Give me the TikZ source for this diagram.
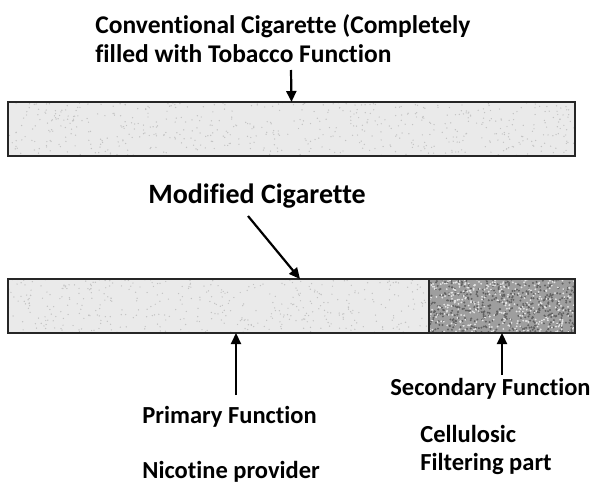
\documentclass[tikz,border=0pt]{standalone}
\usepackage{fontspec}
\setmainfont{Carlito}[Ligatures=NoCommon]
\usepackage{tikz}
\usetikzlibrary{positioning, calc, arrows.meta}
\definecolor{cTob}{RGB}{234,234,234}
\definecolor{cFil}{RGB}{158,158,158}

\begin{document}
\begin{tikzpicture}[x=1pt, y=-1pt, thick,
                    cig/.style={draw=black!85, line width=1.2pt, fill=#1, minimum height=54pt,
                                inner sep=0pt, outer sep=0pt},
                    specks/.style n args={3}{path picture={
                        \foreach \i in {1,...,#1}
                          \fill[#2] ($(path picture bounding box.south west)
                                     +(rnd*\pgfkeysvalueof{/pgf/minimum width},rnd*54pt)$) circle (#3);}},
                    lbl/.style={font=\bfseries\fontsize{24.5}{28}\selectfont, inner sep=0pt, anchor=base west},
                    arr/.style={-{Triangle[length=11pt,width=10pt]}, line width=2.2pt}]
    \pgfmathsetseed{42}
    \useasboundingbox (0,0) rectangle (596,484);

    % Conventional cigarette
    \node[lbl, anchor=north west, align=left, font=\bfseries\fontsize{25.5}{29}\selectfont]
        (convlbl) at (95,14) {Conventional Cigarette (Completely\\filled with Tobacco Function};
    \node[cig=cTob, minimum width=567pt, specks={600}{black!24}{0.7pt}] (conv) at (291.5,129) {};
    \coordinate (convtail) at (291,70);
    \draw[arr] (convtail) -- (conv.north);

    % Modified cigarette: tobacco part + filter part
    \node[lbl, font=\bfseries\fontsize{28}{32}\selectfont] (modlbl) at (148,203) {Modified Cigarette};
    \node[cig=cTob, minimum width=421pt, specks={450}{black!24}{0.7pt}] (tob) at (218.5,306) {};
    \node[cig=cFil, minimum width=146pt, specks={500}{black!62}{1.1pt}] (filt) at (502,306) {};
    \path[minimum width=146pt, specks={350}{white!90!black}{1pt}] (filt.south west) rectangle (filt.north east);
    \draw[black!85, line width=1.2pt] (filt.south west) rectangle (filt.north east);
    \coordinate (modtail) at (248,216);
    \coordinate (modhead) at (300,279);
    \draw[arr] (modtail) -- (modhead);

    % Functions
    \coordinate (primtail) at (236,395);
    \draw[arr] (primtail) -- (primtail |- tob.south);
    \coordinate (sectail) at (502,375);
    \draw[arr] (sectail) -- (filt.south);

    \node[lbl] (seclbl) at (390,395) {Secondary Function};
    \node[lbl] (primlbl) at (142,423) {Primary Function};
    \node[lbl, anchor=north west, align=left] (cellbl) at (420,425) {Cellulosic\\Filtering part};
    \node[lbl] (niclbl) at (142,478) {Nicotine provider};
\end{tikzpicture}
\end{document}
